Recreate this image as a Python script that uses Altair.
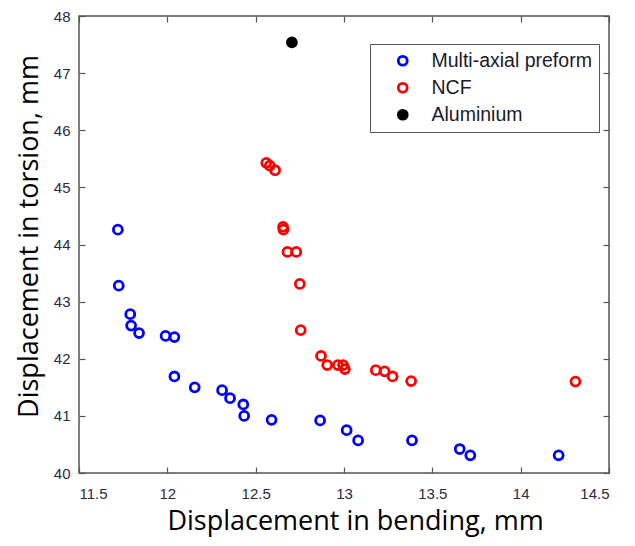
import altair as alt
import pandas as pd

series_names = ["Multi-axial preform", "NCF", "Aluminium"]

multi_x = [11.72, 11.725, 11.79, 11.795, 11.84, 11.99, 12.04, 12.04, 12.155, 12.31, 12.355,
           12.43, 12.435, 12.59, 12.865, 13.015, 13.08, 13.385, 13.655, 13.715, 14.215]
multi_y = [44.26, 43.28, 42.78, 42.58, 42.45, 42.40, 42.38, 41.69, 41.50, 41.45, 41.31,
           41.20, 41.00, 40.93, 40.92, 40.75, 40.57, 40.57, 40.42, 40.31, 40.31]

ncf_x = [12.56, 12.58, 12.61, 12.655, 12.657, 12.68, 12.73, 12.75, 12.755, 12.87, 12.905,
         12.965, 12.995, 13.005, 13.18, 13.23, 13.275, 13.38, 14.31]
ncf_y = [45.43, 45.38, 45.30, 44.31, 44.26, 43.87, 43.87, 43.31, 42.50, 42.05, 41.89,
         41.89, 41.89, 41.82, 41.80, 41.78, 41.69, 41.61, 41.60]

alu_x = [12.705]
alu_y = [47.54]

x_ticks = [11.5, 12, 12.5, 13, 13.5, 14, 14.5]
y_ticks = [40, 41, 42, 43, 44, 45, 46, 47, 48]

rows = []
for name, xs, ys in [(series_names[0], multi_x, multi_y),
                     (series_names[1], ncf_x, ncf_y),
                     (series_names[2], alu_x, alu_y)]:
    for xv, yv in zip(xs, ys):
        rows.append({"series": name, "bend": xv, "tors": yv})
df = pd.DataFrame(rows)

TICK_FONT = "Liberation Sans"
TICK_COLOR = "#2a2a45"
TITLE_FONT = "Open Sans"

PLOT_W = 530
PLOT_H = 457

x_scale = alt.Scale(domain=[11.5, 14.5], nice=False, zero=False)
y_scale = alt.Scale(domain=[40, 48], nice=False, zero=False)

legend_props = dict(
    title=None, orient="none", legendX=291, legendY=28,
    strokeColor="#555555", fillColor="#ffffff", padding=7,
    labelFont=TICK_FONT, labelFontSize=19.5, labelColor="#1a1a2a",
    symbolStrokeWidth=2.8, symbolOffset=16, labelOffset=19,
    rowPadding=6, symbolType="circle", labelLimit=400,
)

base = alt.Chart(df)

points = base.mark_point(shape="circle", strokeWidth=2.8, opacity=1).encode(
    x=alt.X("bend:Q", scale=x_scale,
            axis=alt.Axis(orient="bottom", values=x_ticks, format="~g", offset=-6,
                          tickSize=6, tickColor="#555555", tickWidth=1.2, domain=False, grid=False,
                          labelFont=TICK_FONT, labelFontSize=15, labelColor=TICK_COLOR,
                          labelPadding=13, title="Displacement in bending, mm",
                          titleFont=TITLE_FONT, titleFontSize=27, titleFontWeight="normal",
                          titleColor="#000000", titleBaseline="alphabetic",
                          titleX=276, titleY=62)),
    y=alt.Y("tors:Q", scale=y_scale,
            axis=alt.Axis(orient="left", values=y_ticks, format="d", offset=-6,
                          tickSize=6, tickColor="#555555", tickWidth=1.2, domain=False, grid=False,
                          labelFont=TICK_FONT, labelFontSize=15, labelColor=TICK_COLOR,
                          labelPadding=9, title="Displacement in torsion, mm",
                          titleFont=TITLE_FONT, titleFontSize=27, titleFontWeight="normal",
                          titleColor="#000000", titleBaseline="alphabetic",
                          titleX=-48, titleY=220, titleAngle=-90)),
    stroke=alt.Stroke("series:N",
                      scale=alt.Scale(domain=series_names, range=["#0000ff", "#ff0000", "#000000"]),
                      legend=alt.Legend(**legend_props)),
    fill=alt.Fill("series:N",
                  scale=alt.Scale(domain=series_names, range=["transparent", "transparent", "#000000"]),
                  legend=alt.Legend(**legend_props)),
    size=alt.Size("series:N",
                  scale=alt.Scale(domain=series_names, range=[80, 80, 140]),
                  legend=alt.Legend(**legend_props)),
)

ticks_layer = base.mark_point(opacity=0).encode(
    x=alt.X("bend:Q", scale=x_scale,
            axis=alt.Axis(orient="top", values=x_ticks, offset=-6, tickSize=6,
                          tickColor="#555555", tickWidth=1.2, domain=False, grid=False,
                          labels=False, title=None)),
    y=alt.Y("tors:Q", scale=y_scale,
            axis=alt.Axis(orient="right", values=y_ticks, offset=-6, tickSize=6,
                          tickColor="#555555", tickWidth=1.2, domain=False, grid=False,
                          labels=False, title=None)),
)

chart = alt.layer(points, ticks_layer).resolve_axis(
    x="independent", y="independent"
).properties(
    width=PLOT_W, height=PLOT_H,
    padding={"left": 7, "top": 1, "right": 2, "bottom": 3},
).configure_view(
    stroke="#555555", strokeWidth=1.5
)

chart.save("out.html", embed_options={"renderer": "svg", "actions": False})
